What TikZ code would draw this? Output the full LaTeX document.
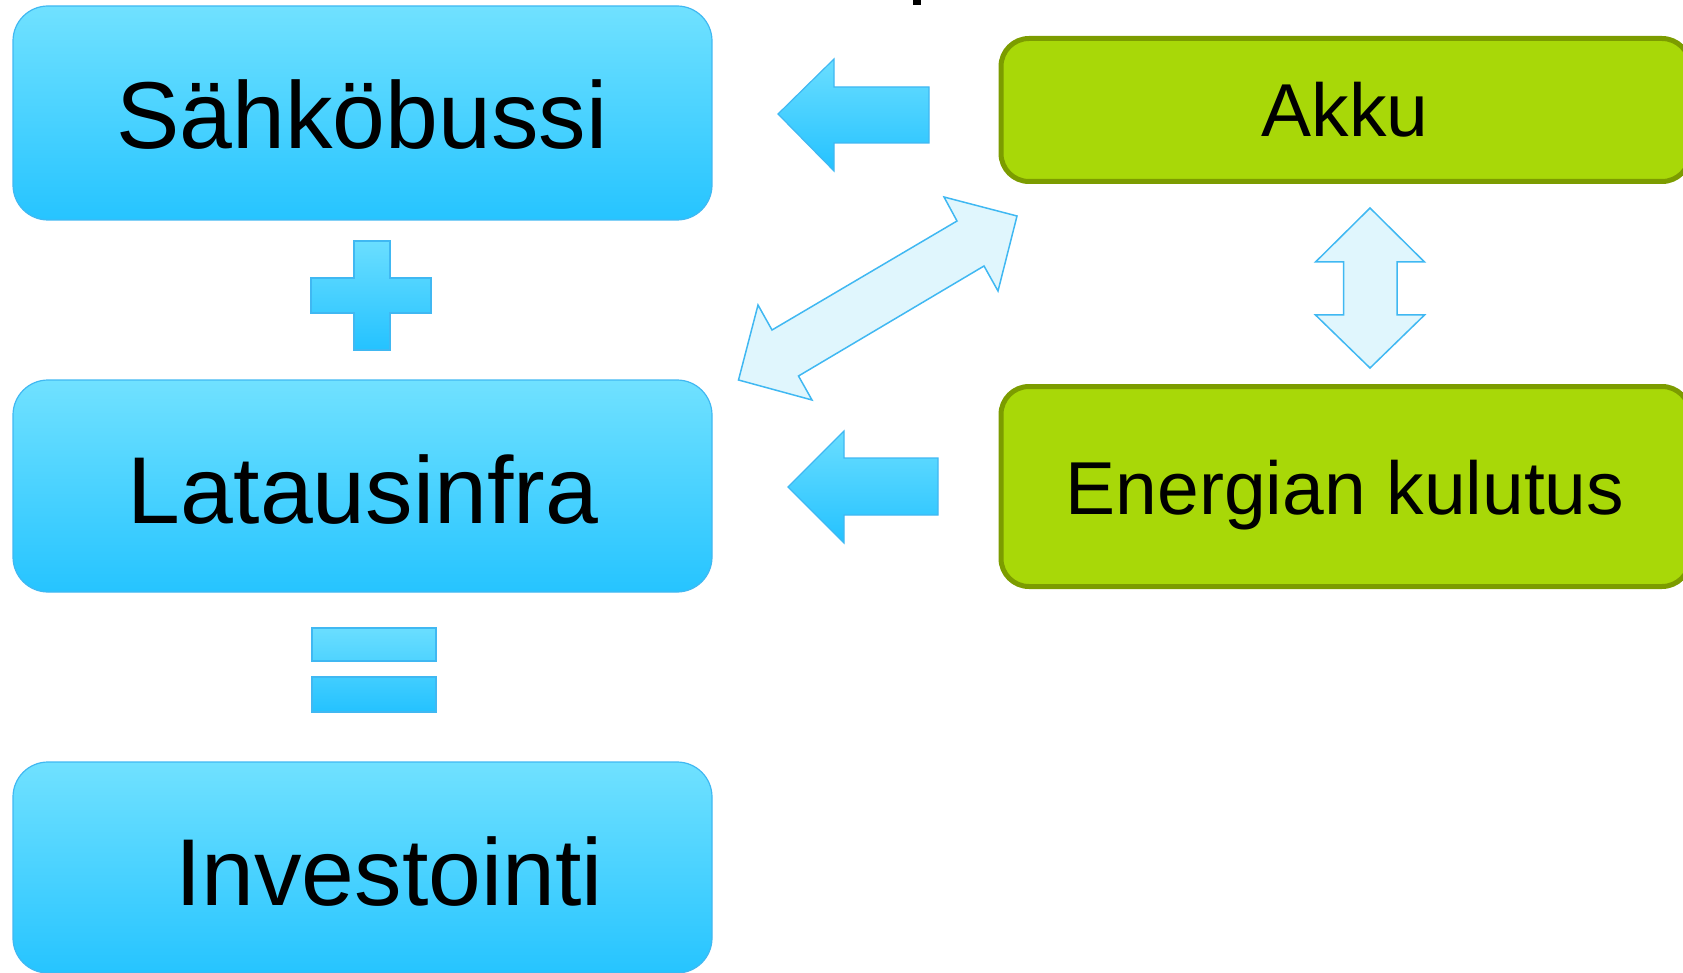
\documentclass[tikz,border=0pt]{standalone}
\usepackage{fontspec}
\setmainfont{Liberation Sans}
\definecolor{bluetop}{RGB}{112,225,255}
\definecolor{bluebot}{RGB}{38,196,255}
\definecolor{bluebord}{RGB}{64,184,242}
\definecolor{arrtop}{RGB}{106,222,255}
\definecolor{arrbot}{RGB}{36,194,255}
\definecolor{greenfill}{RGB}{168,216,8}
\definecolor{greenbord}{RGB}{124,156,0}
\definecolor{palefill}{RGB}{224,246,253}
\begin{document}
\begin{tikzpicture}[x=1pt,y=-1pt,
 bluebox/.style={draw=bluebord, line width=1.2pt, rounded corners=35pt, top color=bluetop, bottom color=bluebot, inner sep=0pt},
 greenbox/.style={draw=greenbord, line width=5pt, rounded corners=28pt, fill=greenfill, inner sep=0pt},
 bigtxt/.style={anchor=base, font=\fontsize{95}{108}\selectfont, inner sep=0pt},
 midtxt/.style={anchor=base, font=\fontsize{75}{85}\selectfont, inner sep=0pt},
 blockarrow/.style={draw=bluebord, line width=1.2pt, top color=arrtop, bottom color=arrbot},
 palearrow/.style={draw=bluebord, line width=1.5pt, fill=palefill},
]
\useasboundingbox (0,0) rectangle (1683,973);
% boxes
\node[bluebox, minimum width=699pt, minimum height=214pt] (bus) at (362.5,113) {};
\node[bluebox, minimum width=699pt, minimum height=212pt] (lataus) at (362.5,486) {};
\node[bluebox, minimum width=699pt, minimum height=211pt] (inv) at (362.5,867.5) {};
\node[greenbox, minimum width=689pt, minimum height=143pt] (akku) at (1345.5,110) {};
\node[greenbox, minimum width=689pt, minimum height=200pt] (energia) at (1345.5,486.5) {};
% texts
\node[bigtxt] (tbus) at (362,149) {Sähköbussi};
\node[bigtxt] (tlataus) at (363,523) {Latausinfra};
\node[bigtxt] (tinv) at (389,905) {Investointi};
\node[midtxt] (takku) at (1345,137) {Akku};
\node[midtxt] (tenergia) at (1345,514) {Energian kulutus};
% plus
\shade[blockarrow] (354,241) -- (390,241) -- (390,278) -- (431,278) -- (431,313) -- (390,313) -- (390,350) -- (354,350) -- (354,313) -- (311,313) -- (311,278) -- (354,278) -- cycle;
% equals
\shade[blockarrow] (312,628) rectangle (436,661) (312,677) rectangle (436,712);
% left arrows
\shade[blockarrow] (778,114) -- (834,59) -- (834,87) -- (929,87) -- (929,143) -- (834,143) -- (834,171) -- cycle;
\shade[blockarrow] (788,487) -- (844,431) -- (844,458) -- (938,458) -- (938,515) -- (844,515) -- (844,543) -- cycle;
% diagonal double arrow
\filldraw[palearrow] (1017,216) -- (998,291) -- (984,266) -- (798.5,376) -- (812,400) -- (738.5,380) -- (758,305) -- (772,330) -- (957,221) -- (944,197) -- cycle;
% vertical double arrow
\filldraw[palearrow] (1370,208) -- (1424.5,262) -- (1397,262) -- (1397,315) -- (1424.5,315) -- (1370,368) -- (1315.5,315) -- (1343.5,315) -- (1343.5,262) -- (1315.5,262) -- cycle;
% fragment at top edge
\fill (913,0) rectangle (921,5);
\end{tikzpicture}
\end{document}
